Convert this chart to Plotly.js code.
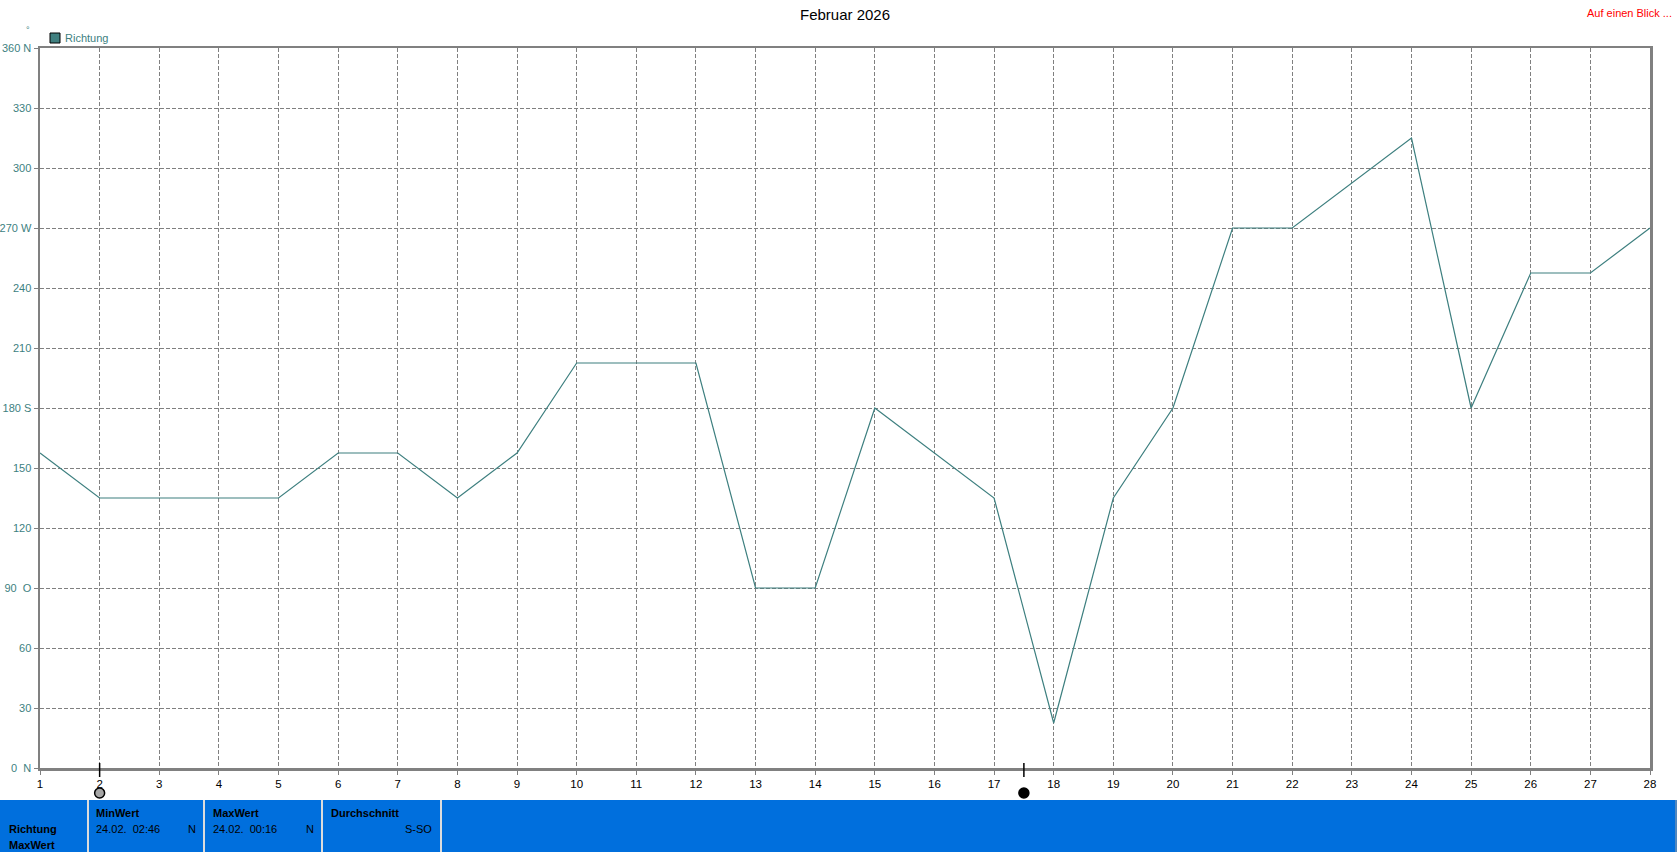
<!DOCTYPE html>
<html>
<head>
<meta charset="utf-8">
<script src="https://cdn.plot.ly/plotly-3.0.1.min.js"></script>
<style>
html,body{margin:0;padding:0;background:#fff;}
#chart{width:1677px;height:852px;}
</style>
</head>
<body>
<div id="chart"></div>
<script>
// ---- data ----
var days = [1,2,3,4,5,6,7,8,9,10,11,12,13,14,15,16,17,18,19,20,21,22,23,24,25,26,27,28];
var richtung = [157.5,135,135,135,135,157.5,157.5,135,157.5,202.5,202.5,202.5,90,90,180,157.5,135,22.5,135,180,270,270,292.5,315,180,247.5,247.5,270];
var yTickVals = [0,30,60,90,120,150,180,210,240,270,300,330,360];
var yTickText = ["0\u00a0\u00a0N","30","60","90\u00a0\u00a0O","120","150","180\u00a0S","210","240","270\u00a0W","300","330","360\u00a0N"];
var xTickText = days.map(String);
var moonDays = [2, 17.5];
var moonFill = ["#a6a6a6", "#000000"];
var statLabels = ["MinWert","MaxWert","Durchschnitt"];
var statTimes = ["24.02.  02:46","24.02.  00:16",""];
var statValues = ["N","N","S-SO"];

// ---- layout helpers (pixel -> paper) ----
var L=40, R=1650, T=48, B=768;
function px(x){return (x-L)/(R-L);}
function py(y){return (B-y)/(B-T);}
var dayPx = (R-L)/(days[days.length-1]-days[0]);

var teal = "#3d7f7f";
var font = "Liberation Sans, Arial, sans-serif";

var traces = [
  {x: days, y: richtung, type:"scatter", mode:"lines",
   line:{color:teal, width:1.2}, hoverinfo:"skip", showlegend:false, cliponaxis:false}
];

var shapes = [];
// bottom panel
shapes.push({type:"rect", xref:"paper", yref:"paper", x0:px(0), x1:px(1677), y0:py(852), y1:py(800),
  fillcolor:"#006fdd", line:{width:0}, layer:"above"});
[88,204,322,441].forEach(function(s){
  shapes.push({type:"line", xref:"paper", yref:"paper", x0:px(s), x1:px(s), y0:py(852), y1:py(800),
    line:{color:"#dcdcdc", width:2}, layer:"above"});
});
shapes.push({type:"line", xref:"paper", yref:"paper", x0:px(1676), x1:px(1676), y0:py(852), y1:py(800),
  line:{color:"#a0a0a0", width:1}, layer:"above"});
// moon ticks on x axis + moon symbols
moonDays.forEach(function(d, i){
  shapes.push({type:"line", xref:"x", yref:"paper", x0:d, x1:d, y0:py(763), y1:py(777),
    line:{color:"#000", width:1.5}, layer:"above"});
  var r = 5/dayPx;
  shapes.push({type:"circle", xref:"x", yref:"paper", x0:d-r, x1:d+r, y0:py(798), y1:py(788),
    fillcolor:moonFill[i], line:{color:"#000", width:1.5}, layer:"above"});
});
// legend square
shapes.push({type:"rect", xref:"paper", yref:"paper", x0:px(50), x1:px(60), y0:py(43), y1:py(33),
  fillcolor:"#408080", line:{color:"#000", width:1}});

var ann = [];
function txt(t, x, y, opts){
  var a = {text:t, xref:"paper", yref:"paper", x:px(x), y:py(y), showarrow:false,
    xanchor:"left", yanchor:"middle", font:{family:font, size:11, color:"#000"}};
  for (var k in opts) a[k]=opts[k];
  ann.push(a);
}
txt("Richtung", 63, 38, {font:{family:font, size:11, color:teal}});
txt("°", 28, 30, {xanchor:"center", font:{family:font, size:9, color:teal}});
txt("Auf einen Blick ...", 1674, 13, {xanchor:"right", font:{family:font, size:11, color:"#ff0000"}});
txt("<b>Richtung</b>", 7, 829);
txt("<b>MaxWert</b>", 7, 845);
var colX = [94, 211, 329];
var colR = [198, 316, 434];
for (var i=0;i<statLabels.length;i++){
  txt("<b>"+statLabels[i]+"</b>", colX[i], 813);
  if (statTimes[i]) txt(statTimes[i].replace(/ /g,"\u00a0"), colX[i], 829);
  txt(statValues[i], colR[i], 829, {xanchor:"right"});
}

var layout = {
  width:1677, height:852,
  margin:{l:40, r:27, t:48, b:84, pad:0},
  paper_bgcolor:"#fff", plot_bgcolor:"#fff",
  title:{text:"Februar 2026", x:0.5, xref:"paper", y:1-15/852, yanchor:"middle",
    font:{family:font, size:15, color:"#000"}},
  showlegend:false,
  hovermode:false,
  xaxis:{range:[1,28], tickvals:days, ticktext:xTickText, automargin:false,
    showline:true, mirror:true, linecolor:"#808080", linewidth:2.5,
    showgrid:true, gridcolor:"#808080", gridwidth:1, griddash:"4px,2px",
    zeroline:false, ticks:"outside", ticklen:4, tickcolor:"#808080", tickwidth:1,
    tickfont:{family:font, size:11.5, color:"#000"}, fixedrange:true},
  yaxis:{range:[0,360], tickvals:yTickVals, ticktext:yTickText, automargin:false,
    showline:true, mirror:true, linecolor:"#808080", linewidth:2.5,
    showgrid:true, gridcolor:"#808080", gridwidth:1, griddash:"4px,2px",
    zeroline:false, ticks:"outside", ticklen:4, tickcolor:"#808080", tickwidth:1,
    tickfont:{family:font, size:11, color:teal}, fixedrange:true},
  shapes:shapes,
  annotations:ann
};

Plotly.newPlot("chart", traces, layout, {displayModeBar:false, staticPlot:true});
</script>
</body>
</html>
